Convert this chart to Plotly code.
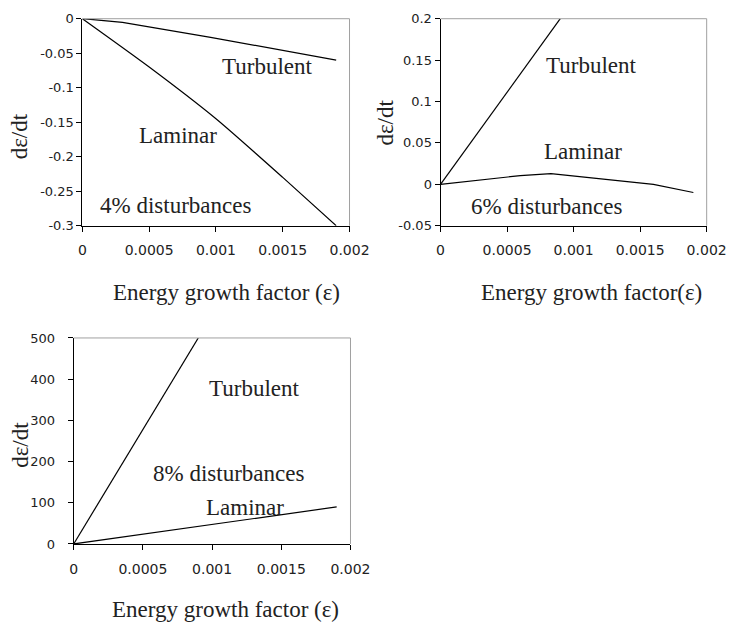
import plotly.graph_objects as go

W, H = 747, 633

# ---- data ----
p1_turb_x = [0, 0.0003, 0.00096, 0.0019]
p1_turbulent = [0, -0.0053, -0.027, -0.06]
p1_lam_x = [0, 0.0005, 0.001, 0.0015, 0.0019]
p1_laminar = [0, -0.07, -0.145, -0.23, -0.30]

p2_turb_x = [0, 0.0009]
p2_turbulent = [0, 0.2]
p2_lam_x = [0, 0.0006, 0.00083, 0.0009, 0.0016, 0.0019]
p2_laminar = [0, 0.0105, 0.0129, 0.0118, 0.0, -0.0099]

p3_turb_x = [0, 0.0009]
p3_turbulent = [0, 500]
p3_lam_x = [0, 0.0019]
p3_laminar = [0, 90]

x_ticks = [0, 0.0005, 0.001, 0.0015, 0.002]
x_ticktext = ["0", "0.0005", "0.001", "0.0015", "0.002"]
p1_yticks = [0, -0.05, -0.1, -0.15, -0.2, -0.25, -0.3]
p1_yticktext = ["0", "-0.05", "-0.1", "-0.15", "-0.2", "-0.25", "-0.3"]
p2_yticks = [0.2, 0.15, 0.1, 0.05, 0, -0.05]
p2_yticktext = ["0.2", "0.15", "0.1", "0.05", "0", "-0.05"]
p3_yticks = [500, 400, 300, 200, 100, 0]
p3_yticktext = ["500", "400", "300", "200", "100", "0"]

def px_dom(x0, x1):
    return [x0 / W, x1 / W]

def py_dom(top, bottom):
    return [1 - bottom / H, 1 - top / H]

SERIF = "Liberation Serif, Times New Roman, serif"
SANS = "DejaVu Sans, Arial, sans-serif"
LINE = dict(color="black", width=1.2)

fig = go.Figure()
fig.add_trace(go.Scatter(x=p1_turb_x, y=p1_turbulent, mode="lines", line=LINE, xaxis="x", yaxis="y"))
fig.add_trace(go.Scatter(x=p1_lam_x, y=p1_laminar, mode="lines", line=dict(LINE, shape="spline", smoothing=0.6), xaxis="x", yaxis="y"))
fig.add_trace(go.Scatter(x=p2_turb_x, y=p2_turbulent, mode="lines", line=LINE, xaxis="x2", yaxis="y2"))
fig.add_trace(go.Scatter(x=p2_lam_x, y=p2_laminar, mode="lines", line=LINE, xaxis="x2", yaxis="y2"))
fig.add_trace(go.Scatter(x=p3_turb_x, y=p3_turbulent, mode="lines", line=LINE, xaxis="x3", yaxis="y3"))
fig.add_trace(go.Scatter(x=p3_lam_x, y=p3_laminar, mode="lines", line=LINE, xaxis="x3", yaxis="y3"))

def xaxis(dom, anchor, standoff=7):
    return dict(domain=dom, anchor=anchor, range=[0, 0.002], tickvals=x_ticks, ticktext=x_ticktext,
                showline=True, linecolor="black", linewidth=1, ticks="outside", ticklen=5,
                tickcolor="black", showgrid=False, zeroline=False,
                tickfont=dict(family=SANS, size=14, color="#222"), ticklabelstandoff=standoff)

def yaxis(dom, anchor, rng, vals, text, standoff=0):
    return dict(domain=dom, anchor=anchor, range=rng, tickvals=vals, ticktext=text,
                showline=True, linecolor="black", linewidth=1, ticks="outside", ticklen=5,
                tickcolor="black", showgrid=False, zeroline=False,
                tickfont=dict(family=SANS, size=13, color="#222"), ticklabelstandoff=standoff)

d1x, d1y = px_dom(81, 357), py_dom(12, 224)
d2x, d2y = px_dom(451, 726), py_dom(12, 224)
d3x, d3y = px_dom(72, 358), py_dom(339, 550)

fig.update_layout(
    width=W, height=H, margin=dict(l=0, r=0, t=0, b=0),
    paper_bgcolor="white", plot_bgcolor="white", showlegend=False,
    xaxis=xaxis(d1x, "y"),
    yaxis=yaxis(d1y, "x", [-0.3, 0], p1_yticks, p1_yticktext),
    xaxis2=xaxis(d2x, "y2"),
    yaxis2=yaxis(d2y, "x2", [-0.05, 0.2], p2_yticks, p2_yticktext),
    xaxis3=xaxis(d3x, "y3"),
    yaxis3=yaxis(d3y, "x3", [0, 500], p3_yticks, p3_yticktext, standoff=10),
)

shapes = []
for xr, yr in [("x", "y"), ("x2", "y2"), ("x3", "y3")]:
    shapes.append(dict(type="line", xref=f"{xr} domain", yref=f"{yr} domain", x0=0, x1=1, y0=1, y1=1,
                       line=dict(color="#a0a0a0", width=1)))
    shapes.append(dict(type="line", xref=f"{xr} domain", yref=f"{yr} domain", x0=1, x1=1, y0=0, y1=1,
                       line=dict(color="#a0a0a0", width=1)))
fig.update_layout(shapes=shapes)

anns = []
def label(text, x, y, xr, yr, size=23):
    anns.append(dict(text=text, x=x, y=y, xref=xr, yref=yr, showarrow=False,
                     xanchor="center", yanchor="middle",
                     font=dict(family=SERIF, size=size, color="#222")))

label("Turbulent", 0.00138, -0.0693, "x", "y")
label("Laminar", 0.000717, -0.1698, "x", "y")
label("4% disturbances", 0.000696, -0.2703, "x", "y")

label("Turbulent", 0.00113, 0.1434, "x2", "y2")
label("Laminar", 0.00107, 0.0396, "x2", "y2")
label("6% disturbances", 0.000793, -0.0264, "x2", "y2")

label("Turbulent", 0.0013, 377, "x3", "y3")
label("8% disturbances", 0.00112, 171, "x3", "y3")
label("Laminar", 0.00124, 88, "x3", "y3")

def title(text, px, py, angle=0):
    anns.append(dict(text=text, x=px / W, y=1 - py / H, xref="paper", yref="paper", showarrow=False,
                     xanchor="center", yanchor="middle", textangle=angle,
                     font=dict(family=SERIF, size=23, color="#222")))

title("Energy growth factor (ε)", 230, 292)
title("Energy growth factor(ε)", 607, 292)
title("Energy growth factor (ε)", 229, 617)
title("dε/dt", 16, 132, -90)
title("dε/dt", 394, 118, -90)
title("dε/dt", 17, 448, -90)

fig.update_layout(annotations=anns)
fig.write_html("out.html", config={"displayModeBar": False},
               post_script="document.body.style.margin='0';document.body.style.overflow='hidden';")
